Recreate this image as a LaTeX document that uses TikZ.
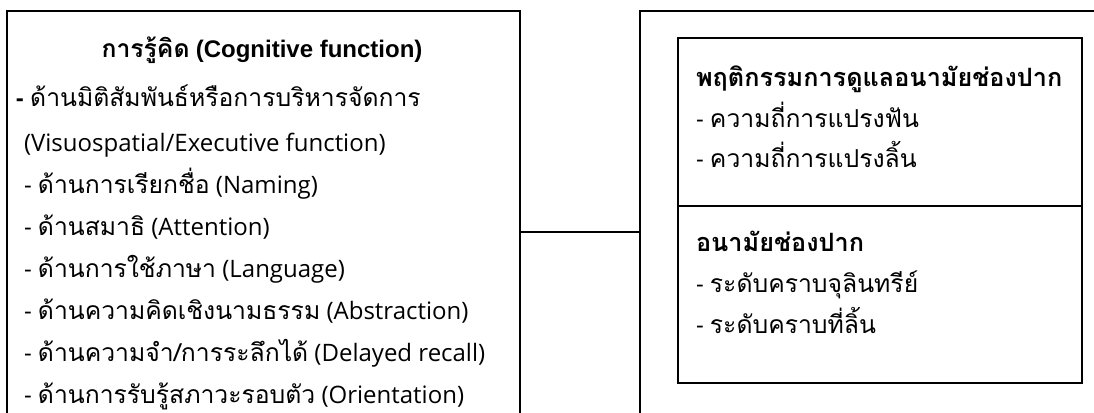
\documentclass[tikz,border=0pt]{standalone}
\usepackage{fontspec}
\setmainfont{Open Sans}
\newfontfamily\thaifont[Script=Thai, Scale=1.03]{Loma}
\newfontfamily\arialfont{Liberation Sans}
\newcommand\T[1]{{\thaifont #1}}
\tikzset{
  frame/.style={draw=black, line width=2pt, inner sep=0pt, outer sep=0pt, fill=none},
  conn/.style={draw=black, line width=2pt},
  txt/.style={anchor=base west, inner sep=0pt, outer sep=0pt, font=\fontsize{24}{28}\selectfont},
  ttl/.style={anchor=base, inner sep=0pt, outer sep=0pt, font=\fontsize{24}{28}\selectfont\bfseries},
  hd/.style={anchor=base west, inner sep=0pt, outer sep=0pt, font=\fontsize{24.5}{28}\selectfont\bfseries}
}
\begin{document}
\begin{tikzpicture}[x=1pt, y=-1pt]
\useasboundingbox (0,0) rectangle (1094,412);
\clip (0,0) rectangle (1094,412);
% boxes
\node[frame, minimum width=513pt, minimum height=419pt] (cog) at (263.5,220.5) {};
\node[frame, minimum width=470pt, minimum height=419pt] (oral) at (875,220.5) {};
\node[frame, minimum width=404pt, minimum height=168pt] (beh) at (880,122) {};
\node[frame, minimum width=404pt, minimum height=177pt] (hyg) at (880,294.5) {};
% connector
\coordinate (cy) at (0,232);
\draw[conn] (cog.east |- cy) -- (oral.west |- cy);
% left texts
\node[ttl] (t0) at (262,58) {\T{การรู้คิด} \arialfont(Cognitive function)};
\node[txt] (t1) at (16,106) {{\arialfont\bfseries -} \T{ด้านมิติสัมพันธ์หรือการบริหารจัดการ}};
\node[txt] (t2) at (24,151) {(Visuospatial/Executive function)};
\node[txt] (t3) at (24,193) {- \T{ด้านการเรียกชื่อ} (Naming)};
\node[txt] (t4) at (24,235) {- \T{ด้านสมาธิ} (Attention)};
\node[txt] (t5) at (24,277) {- \T{ด้านการใช้ภาษา} (Language)};
\node[txt] (t6) at (24,319) {- \T{ด้านความคิดเชิงนามธรรม} (Abstraction)};
\node[txt] (t7) at (24,361) {- \T{ด้านความจำ/การระลึกได้} (Delayed recall)};
\node[txt] (t8) at (24,403) {- \T{ด้านการรับรู้สภาวะรอบตัว} (Orientation)};
% right texts
\node[hd] (r1) at (696,86) {\T{พฤติกรรมการดูแลอนามัยช่องปาก}};
\node[txt] (r2) at (696,127) {- \T{ความถี่การแปรงฟัน}};
\node[txt] (r3) at (696,167) {- \T{ความถี่การแปรงลิ้น}};
\node[hd] (r4) at (696,251) {\T{อนามัยช่องปาก}};
\node[txt] (r5) at (696,292) {- \T{ระดับคราบจุลินทรีย์}};
\node[txt] (r6) at (696,333) {- \T{ระดับคราบที่ลิ้น}};
\end{tikzpicture}
\end{document}
